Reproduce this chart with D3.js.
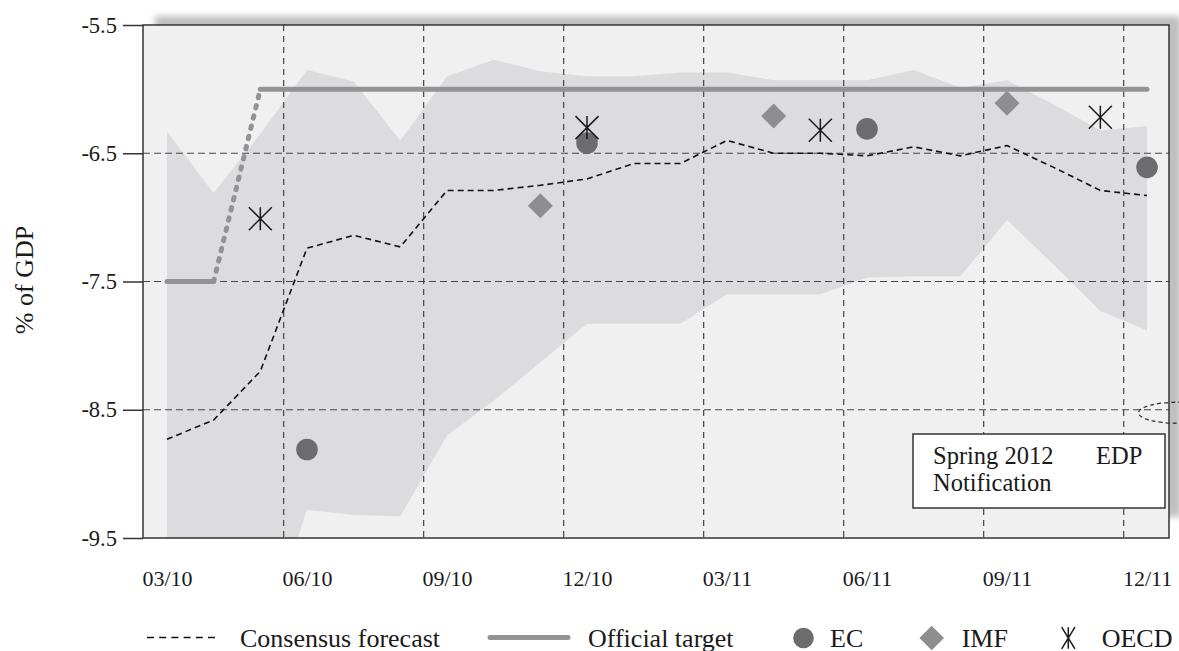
<!DOCTYPE html>
<html>
<head>
<meta charset="utf-8">
<script src="https://cdn.jsdelivr.net/npm/d3@7"></script>
<style>
  html, body { margin: 0; padding: 0; background: #ffffff; }
  svg { display: block; font-family: "Liberation Serif", "Times New Roman", serif; }
</style>
</head>
<body>
<svg id="chart" width="1179" height="651"></svg>
<script>
// ---------------- data ----------------
const months = ["03/10","04/10","05/10","06/10","07/10","08/10","09/10","10/10","11/10","12/10","01/11",
                "02/11","03/11","04/11","05/11","06/11","07/11","08/11","09/11","10/11","11/11","12/11"];
const tickLabels = ["03/10","06/10","09/10","12/10","03/11","06/11","09/11","12/11"];
const yTicks = [-5.5, -6.5, -7.5, -8.5, -9.5];

const consensus = [-8.73,-8.58,-8.20,-7.24,-7.14,-7.23,-6.79,-6.79,-6.75,-6.70,-6.58,
                   -6.58,-6.40,-6.50,-6.50,-6.52,-6.45,-6.52,-6.44,-6.61,-6.79,-6.83];
const rangeHigh = [-6.33,-6.81,-6.35,-5.85,-5.94,-6.40,-5.90,-5.77,-5.86,-5.90,-5.90,
                   -5.87,-5.87,-5.93,-5.93,-5.93,-5.85,-5.99,-5.93,-6.12,-6.32,-6.29];
const rangeLow  = [-10.5,-10.5,-10.4,-9.28,-9.32,-9.33,-8.70,-8.43,-8.13,-7.83,-7.83,
                   -7.83,-7.60,-7.60,-7.60,-7.47,-7.46,-7.46,-7.02,-7.37,-7.73,-7.88];

const targetMonths = ["03/10","04/10","05/10","12/11"];
const targetValues = [-7.5, -7.5, -6.0, -6.0];

const ecMonths = ["06/10","12/10","06/11","12/11"];
const ecValues = [-8.81, -6.42, -6.31, -6.61];
const imfMonths = ["11/10","04/11","09/11"];
const imfValues = [-6.91, -6.21, -6.11];
const oecdMonths = ["05/10","12/10","05/11","11/11"];
const oecdValues = [-7.01, -6.30, -6.32, -6.22];

const legendLabels = ["Consensus forecast","Official target","EC","IMF","OECD"];
const annotationWords = ["Spring 2012", "EDP", "Notification"];

// ---------------- layout ----------------
const svg = d3.select("#chart");
const L = 143, R = 1169, T = 25, B = 538;
const idx = m => months.indexOf(m);

const x = d3.scaleLinear().domain([-0.514, 21.471]).range([L, R]);
const y = d3.scaleLinear().domain([-5.5, -9.5]).range([T, B]);

const defs = svg.append("defs");
const f = defs.append("filter").attr("id","shadow").attr("x","-5%").attr("y","-10%").attr("width","110%").attr("height","120%");
f.append("feGaussianBlur").attr("stdDeviation", 3);
defs.append("clipPath").attr("id","plotclip").append("rect")
  .attr("x", L).attr("y", T).attr("width", R - L).attr("height", B - T);

// drop shadow (offset up-right)
svg.append("rect").attr("x", L + 12).attr("y", T - 9).attr("width", R - L).attr("height", B - T - 12)
  .attr("fill", "#c0c0c0").attr("filter", "url(#shadow)");

// plot background
svg.append("rect").attr("x", L).attr("y", T).attr("width", R - L).attr("height", B - T).attr("fill", "#f0f0f0");

const plot = svg.append("g").attr("clip-path", "url(#plotclip)");

// range band
const bandData = months.map((m, i) => ({t: i, hi: rangeHigh[i], lo: rangeLow[i]}));
plot.append("path").datum(bandData)
  .attr("d", d3.area().x(d => x(d.t)).y0(d => y(d.lo)).y1(d => y(d.hi)))
  .attr("fill", "#dcdcde");

// grid lines
const gridMonths = d3.range(1, 8).map(k => 3 * k - 0.5);
plot.selectAll("line.vg").data(gridMonths).join("line").attr("class","vg")
  .attr("x1", d => x(d)).attr("x2", d => x(d)).attr("y1", T).attr("y2", B)
  .attr("stroke", "#444").attr("stroke-width", 1.2).attr("stroke-dasharray", "6,5");
plot.selectAll("line.hg").data([-6.5, -7.5, -8.5]).join("line").attr("class","hg")
  .attr("x1", L).attr("x2", R).attr("y1", d => y(d)).attr("y2", d => y(d))
  .attr("stroke", "#444").attr("stroke-width", 1.2).attr("stroke-dasharray", "7,4");

// consensus line
const consData = months.map((m, i) => ({t: i, v: consensus[i]}));
plot.append("path").datum(consData)
  .attr("d", d3.line().x(d => x(d.t)).y(d => y(d.v)))
  .attr("fill", "none").attr("stroke", "#111").attr("stroke-width", 1.6).attr("stroke-dasharray", "6,4");

// official target
const tgt = targetMonths.map((m, i) => ({t: idx(m), v: targetValues[i]}));
const tline = d3.line().x(d => x(d.t)).y(d => y(d.v));
plot.append("path").datum([tgt[0], tgt[1]]).attr("d", tline)
  .attr("fill","none").attr("stroke","#939395").attr("stroke-width",5).attr("stroke-linecap","round");
plot.append("path").datum([tgt[1], tgt[2]]).attr("d", tline)
  .attr("fill","none").attr("stroke","#939395").attr("stroke-width",5).attr("stroke-linecap","round")
  .attr("stroke-dasharray","2.5,8");
plot.append("path").datum([tgt[2], tgt[3]]).attr("d", tline)
  .attr("fill","none").attr("stroke","#939395").attr("stroke-width",5).attr("stroke-linecap","round");

// markers
const asterisk = (w, h) => `M0,${-h}V${h}M${-w},${-h}L${w},${h}M${-w},${h}L${w},${-h}`;
const diamond = s => `M0,${-s}L${s},0L0,${s}L${-s},0Z`;

plot.selectAll("path.imf").data(imfMonths.map((m, i) => ({t: idx(m), v: imfValues[i]}))).join("path")
  .attr("class","imf").attr("transform", d => `translate(${x(d.t)},${y(d.v)})`)
  .attr("d", diamond(12.5)).attr("fill", "#8e8e90");
plot.selectAll("circle.ec").data(ecMonths.map((m, i) => ({t: idx(m), v: ecValues[i]}))).join("circle")
  .attr("class","ec").attr("cx", d => x(d.t)).attr("cy", d => y(d.v)).attr("r", 10.8).attr("fill", "#6c6c6e");
plot.selectAll("path.oecd").data(oecdMonths.map((m, i) => ({t: idx(m), v: oecdValues[i]}))).join("path")
  .attr("class","oecd").attr("transform", d => `translate(${x(d.t)},${y(d.v)})`)
  .attr("d", asterisk(11.5, 11.5)).attr("fill","none").attr("stroke","#1a1a1a").attr("stroke-width",1.5);

// frame
svg.append("rect").attr("x", L).attr("y", T).attr("width", R - L).attr("height", B - T)
  .attr("fill", "none").attr("stroke", "#333").attr("stroke-width", 1.5);

// y axis
const yAxis = d3.axisLeft(y).tickValues(yTicks).tickSize(20).tickSizeOuter(0).tickPadding(6)
  .tickFormat(d => d.toFixed(1));
const yg = svg.append("g").attr("transform", `translate(${L},0)`).call(yAxis);
yg.select(".domain").remove();
yg.selectAll("line").attr("stroke", "#333").attr("stroke-width", 1.5);
yg.selectAll("text").attr("font-family", "Liberation Serif, serif").attr("font-size", 22.5).attr("fill", "#1a1a1a");

// x axis labels
const xAxis = d3.axisBottom(x).tickValues(tickLabels.map(idx)).tickSize(0)
  .tickFormat(d => months[d]);
const xg = svg.append("g").attr("transform", `translate(0,${B})`).call(xAxis);
xg.select(".domain").remove();
xg.selectAll("text").attr("dy", null).attr("y", 48)
  .attr("font-family", "Liberation Serif, serif").attr("font-size", 22).attr("fill", "#1a1a1a");

// y title
svg.append("text").attr("transform", "translate(33,280) rotate(-90)").attr("text-anchor", "middle")
  .attr("font-size", 26).attr("fill", "#1a1a1a").text("% of GDP");

// annotation box
svg.append("rect").attr("x", 913).attr("y", 434).attr("width", 252).attr("height", 74)
  .attr("fill", "#fff").attr("stroke", "#333").attr("stroke-width", 1.5);
const ann1 = svg.append("text").attr("x", 933).attr("y", 464).attr("font-size", 24.5).attr("fill", "#1a1a1a");
ann1.append("tspan").attr("x", 933).text(annotationWords[0]);
ann1.append("tspan").attr("x", 1096).text(annotationWords[1]);
svg.append("text").attr("x", 933).attr("y", 491).attr("font-size", 24.5).attr("fill", "#1a1a1a")
  .text(annotationWords[2]);

// dashed ellipse at right edge
svg.append("ellipse").attr("cx", 1177).attr("cy", y(-8.5) + 3).attr("rx", 38.5).attr("ry", 10.5)
  .attr("fill", "none").attr("stroke", "#333").attr("stroke-width", 1.3).attr("stroke-dasharray", "4,3");

// legend
const lg = svg.append("g");
const ly = 637.5, lty = 646.5;
lg.append("line").attr("x1", 147).attr("x2", 220).attr("y1", ly).attr("y2", ly)
  .attr("stroke", "#111").attr("stroke-width", 1.6).attr("stroke-dasharray", "7,5.2");
lg.append("line").attr("x1", 490).attr("x2", 568).attr("y1", ly).attr("y2", ly)
  .attr("stroke", "#939395").attr("stroke-width", 5).attr("stroke-linecap", "round");
lg.append("circle").attr("cx", 803.5).attr("cy", ly + 0.5).attr("r", 10.3).attr("fill", "#6c6c6e");
lg.append("path").attr("transform", `translate(931.7,${ly + 0.5})`).attr("d", diamond(12.3)).attr("fill", "#8e8e90");
lg.append("path").attr("transform", `translate(1068.3,${ly + 0.5})`).attr("d", asterisk(6.6, 10.8))
  .attr("fill","none").attr("stroke","#1a1a1a").attr("stroke-width",1.5);
const legendX = [240, 588, 830, 961.7, 1101.7];
lg.selectAll("text").data(legendLabels).join("text")
  .attr("x", (d, i) => legendX[i]).attr("y", lty).attr("font-size", 26).attr("fill", "#1a1a1a").text(d => d);
</script>
</body>
</html>
